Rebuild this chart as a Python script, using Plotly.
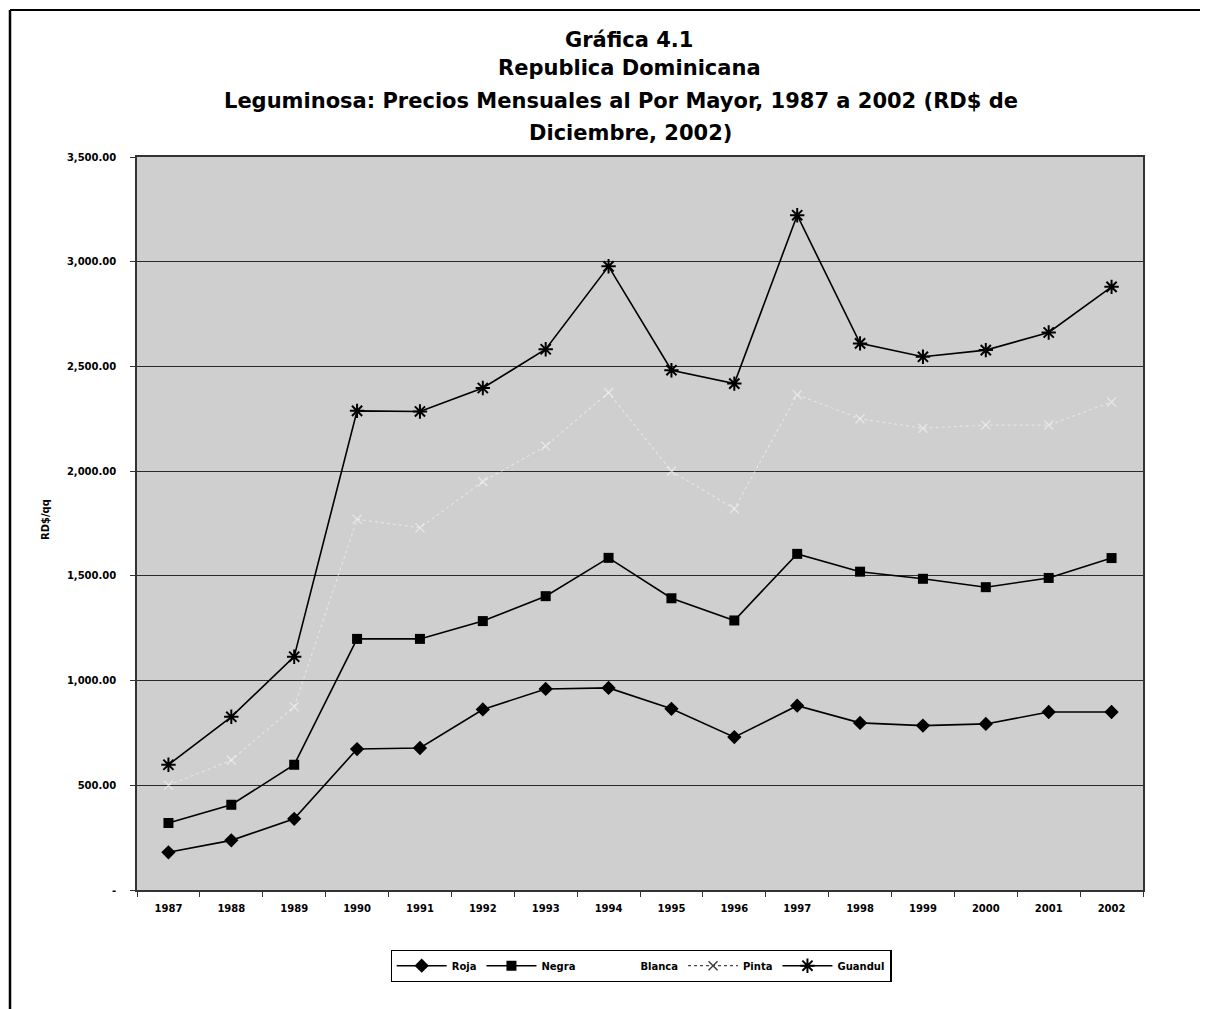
import plotly.graph_objects as go

years = ["1987", "1988", "1989", "1990", "1991", "1992", "1993", "1994",
         "1995", "1996", "1997", "1998", "1999", "2000", "2001", "2002"]
roja = [180, 237, 340, 673, 678, 862, 960, 965, 865, 730, 880, 798, 785, 793, 850, 850]
negra = [320, 407, 598, 1199, 1199, 1284, 1403, 1586, 1393, 1287, 1605, 1520, 1486, 1446, 1490, 1585]
blanca = [None] * 16
pinta = [500, 620, 875, 1770, 1730, 1950, 2120, 2375, 2000, 1820, 2365, 2250, 2205, 2220, 2220, 2330]
guandul = [598, 827, 1114, 2288, 2285, 2397, 2582, 2978, 2482, 2418, 3222, 2610, 2546, 2578, 2662, 2880]
y_ticks = [0, 500, 1000, 1500, 2000, 2500, 3000, 3500]
y_ticktext = ["-", "500.00", "1,000.00", "1,500.00", "2,000.00", "2,500.00", "3,000.00", "3,500.00"]
title_lines = ["Gráfica 4.1", "Republica Dominicana",
               "Leguminosa: Precios Mensuales al Por Mayor, 1987 a 2002 (RD$ de",
               "Diciembre, 2002)"]

OFF = 8  # page body margin
W, H = 1200, 1001
# plot area in viewport pixels
L, R, T, B = 137, 1143, 157, 890


def px(x):
    return (x - L) / (R - L)


def py(y):
    return (B - y) / (B - T)


FONT = "DejaVu Sans"
fig = go.Figure()

# Pinta plotted faint white on the chart (as in the scan)
fig.add_trace(go.Scatter(x=years, y=pinta, mode="lines+markers", showlegend=False,
                         line=dict(color="rgba(255,255,255,0.45)", width=1.2, dash="dot"),
                         marker=dict(symbol="x-thin-open", size=9,
                                     line=dict(color="rgba(255,255,255,0.55)", width=1.5))))

fig.add_trace(go.Scatter(x=years, y=roja, name="<b>Roja</b>", mode="lines+markers",
                         line=dict(color="black", width=1.6),
                         marker=dict(symbol="diamond", size=11, color="black")))
fig.add_trace(go.Scatter(x=years, y=negra, name="<b>Negra</b>", mode="lines+markers",
                         line=dict(color="black", width=1.6),
                         marker=dict(symbol="square", size=10, color="black")))
fig.add_trace(go.Scatter(x=years, y=blanca, name="<b>Blanca</b>", mode="lines",
                         line=dict(color="white", width=1.6)))
fig.add_trace(go.Scatter(x=years, y=[None] * 16, name="<b>Pinta</b>", mode="lines+markers",
                         line=dict(color="#444444", width=1.2, dash="dot"),
                         marker=dict(symbol="x-thin-open", size=9,
                                     line=dict(color="#444444", width=1.5))))
fig.add_trace(go.Scatter(x=years, y=guandul, name="<b>Guandul</b>", mode="lines+markers",
                         line=dict(color="black", width=1.6),
                         marker=dict(symbol="asterisk-open", size=12,
                                     line=dict(color="black", width=2))))

annotations = []
for txt, (cx, cy) in zip(title_lines, [(629, 40), (629, 68), (621, 101), (630, 133)]):
    annotations.append(dict(text="<b>" + txt + "</b>", x=px(cx), y=py(cy), xref="paper",
                            yref="paper", showarrow=False, xanchor="center", yanchor="middle",
                            font=dict(family=FONT, size=21, color="black")))
annotations.append(dict(text="<b>RD$/qq</b>", x=px(45), y=py(520), xref="paper", yref="paper",
                        showarrow=False, textangle=-90, xanchor="center", yanchor="middle",
                        font=dict(family=FONT, size=10, color="black")))

shapes = [
    dict(type="line", xref="paper", yref="paper", x0=px(10), x1=px(1204), y0=py(10), y1=py(10),
         line=dict(color="black", width=2)),
    dict(type="line", xref="paper", yref="paper", x0=px(10), x1=px(10), y0=py(10), y1=py(1012),
         line=dict(color="black", width=2.5)),
    dict(type="line", xref="paper", yref="paper", x0=px(1203), x1=px(1203), y0=py(10), y1=py(1012),
         line=dict(color="black", width=1)),
]

fig.update_layout(
    width=W, height=H, autosize=False,
    margin=dict(l=L - OFF, r=W - (R - OFF), t=T - OFF, b=H - (B - OFF)),
    paper_bgcolor="white", plot_bgcolor="#cfcfcf",
    showlegend=True,
    legend=dict(orientation="h", x=px(641), xanchor="center", y=py(950), yanchor="top",
                bgcolor="white", bordercolor="black", borderwidth=1.2,
                font=dict(family=FONT, size=10, color="black"), itemwidth=50,
                tracegroupgap=0),
    annotations=annotations, shapes=shapes,
    xaxis=dict(type="category", range=[-0.5, 15.5], showgrid=False, zeroline=False,
               showline=True, linecolor="#333333", linewidth=1.5, mirror=True,
               ticks="outside", tickson="boundaries", ticklen=5, tickcolor="#333333",
               tickfont=dict(family=FONT, size=10, color="black"), ticklabelstandoff=8,
               tickprefix="<b>", ticksuffix="</b>"),
    yaxis=dict(range=[0, 3500], tickvals=y_ticks, ticktext=["<b>" + t + "</b>" for t in y_ticktext],
               showgrid=True, gridcolor="#2a2a2a", gridwidth=1, zeroline=False,
               showline=True, linecolor="#333333", linewidth=1.5, mirror=True,
               ticks="outside", ticklen=5, tickcolor="#333333",
               tickfont=dict(family=FONT, size=10, color="black"), ticklabelstandoff=12),
)

fig.write_html("out.html")
